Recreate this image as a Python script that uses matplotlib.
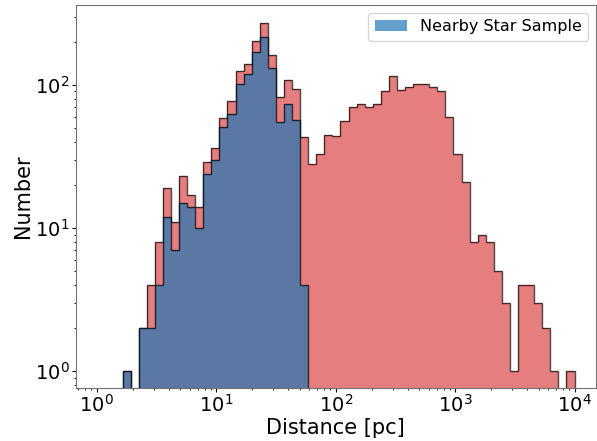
import numpy as np
import matplotlib
matplotlib.use("Agg")
import matplotlib.pyplot as plt

# log10 of the first and last bin edges, and number of bins
log_edge_min = 0.215
log_edge_max = 3.998
n_bins = 56

# counts per bin: full sample (red) and nearby star sample (blue)
all_counts = [1, 0, 2, 4, 8, 19, 11, 23, 17, 14, 29, 36, 59, 77, 125, 140, 204, 273,
              161, 82, 109, 94, 43, 28, 33, 45, 44, 56, 70, 74, 70, 73, 91, 116, 92,
              97, 101, 101, 96, 91, 60, 33, 21, 8, 9, 8, 5, 3, 1, 4, 4, 3, 2, 1, 0, 1]
nearby_counts = [1, 0, 2, 2, 4, 12, 7, 15, 14, 10, 24, 30, 51, 63, 102, 119, 169, 215,
                 131, 55, 73, 57, 4] + [0] * 33

edges = np.logspace(log_edge_min, log_edge_max, n_bins + 1)

fig = plt.figure(figsize=(5.97, 4.41), dpi=100)
ax = fig.add_axes([0.127, 0.120, 0.871, 0.869])

red = 'tab:red'
blue = 'tab:blue'

ax.stairs(all_counts, edges, fill=True, color=red, alpha=0.6, linewidth=0)
ax.stairs(all_counts, edges, fill=False, color='black', alpha=0.7, linewidth=1.0)
ax.stairs(nearby_counts, edges, fill=True, color=blue, alpha=0.7, linewidth=0,
          label='Nearby Star Sample')
ax.stairs(nearby_counts, edges, fill=False, color='black', alpha=0.7, linewidth=1.0)

ax.set_xscale('log')
ax.set_yscale('log')
ax.set_xlim(0.667, 15000)
ax.set_ylim(0.76, 363)

ax.set_xlabel('Distance [pc]', fontsize=15, labelpad=1)
ax.set_ylabel('Number', fontsize=15, labelpad=1)
ax.tick_params(axis='both', which='major', labelsize=14, length=3, pad=1.5)
ax.tick_params(axis='both', which='minor', length=1.5)
for s in ax.spines.values():
    s.set_color('0.45')

ax.legend(loc='upper right', fontsize=11.5)

fig.savefig('out.png', dpi=100)
